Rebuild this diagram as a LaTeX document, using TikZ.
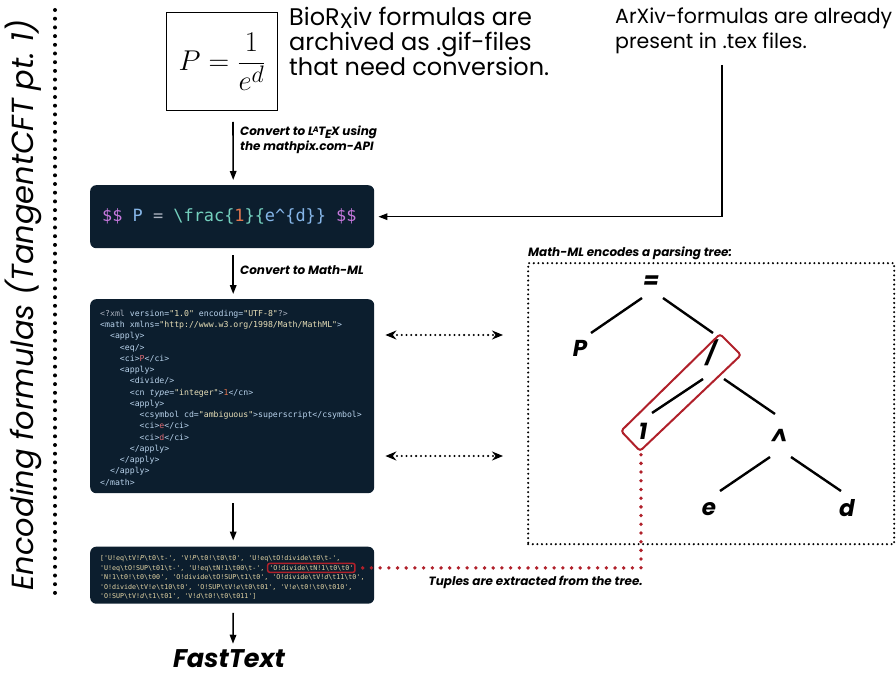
\documentclass[tikz,border=0pt]{standalone}
\usepackage{fontspec}
\setmainfont{Poppins}
\setmonofont{DejaVu Sans Mono}
\usetikzlibrary{arrows.meta,calc}
\definecolor{codebg}{HTML}{0C1E2E}
\definecolor{hlred}{HTML}{B0202A}
\definecolor{cpurple}{HTML}{C678DD}
\definecolor{cblue}{HTML}{86B6E8}
\definecolor{cgray}{HTML}{ABB2BF}
\definecolor{cteal}{HTML}{74D0BE}
\definecolor{corange}{HTML}{E0764F}
\definecolor{ctag}{HTML}{B9D3EC}
\definecolor{cstr}{HTML}{E9E0B8}
\definecolor{cvar}{HTML}{E06C75}
\definecolor{ctup}{HTML}{E6D7A6}
\newcommand\xs[1]{\textcolor{cstr}{#1}}
\newcommand\xv[1]{\textcolor{cvar}{#1}}
\newcommand\xn[1]{\textcolor{corange}{#1}}
\newcommand\ind[1]{\hspace*{#1\fontcharwd\font`x}}
\newcommand\tb{\textbackslash t}
\newcommand\tv[1]{\textit{#1}}
\newcommand\mylatex{L\kern-0.08em\raisebox{0.55ex}{\fontsize{8}{8}\selectfont A}\kern-0.02em T\kern-0.04em\raisebox{-0.45ex}{E}\kern-0.04em X}
\begin{document}
\begin{tikzpicture}[x=1pt,y=-1pt,
  codebox/.style={fill=codebg, rounded corners=6pt, inner sep=0pt, anchor=north west},
  flow/.style={line width=1.6pt, -{Triangle[length=9pt,width=6.5pt]}},
  lbl/.style={font=\bfseries\itshape\fontsize{12}{14.5}\selectfont, align=left, inner sep=0pt},
  bodytext/.style={font=\fontsize{24}{25}\selectfont, align=left, inner sep=0pt},
  tn/.style={font=\bfseries\itshape\fontsize{23}{23}\selectfont, inner sep=0pt},
  te/.style={line width=2.4pt},
  bigdots/.style={line width=4pt, line cap=round, dash pattern=on 0pt off 8.7pt},
  smalldots/.style={line width=2.3pt, line cap=round, dash pattern=on 0pt off 4.6pt},
  reddots/.style={hlred, line width=3.8pt, line cap=round, dash pattern=on 0pt off 8.7pt},
  dbl/.style={line width=2.3pt, line cap=round, dash pattern=on 0pt off 4.8pt,
    {Stealth[length=11pt,width=9pt]}-{Stealth[length=11pt,width=9pt]}},
  tup/.style={font=\ttfamily\fontsize{6.65}{9.6}\selectfont, text=ctup, inner sep=0pt, anchor=base west}
]
\useasboundingbox (0,0) rectangle (896,676);

% left title and dotted divider
\node[rotate=90, font=\itshape\fontsize{30.5}{30.5}\selectfont, inner sep=0pt] (title) at (23,305) {Encoding formulas (TangentCFT pt.~1)};
\draw[bigdots] (55,10) -- (55,598);

% gif formula box
\node[draw, line width=1.3pt, minimum width=111pt, minimum height=98pt, anchor=north west, inner sep=0pt] (gif) at (166,12) {};
\node[scale=1.15, font=\Huge] (formula) at (gif.center) {$\displaystyle P=\frac{1}{e^{d}}$};

% top texts
\node[bodytext, anchor=north west] (bio) at (289,7) {BioR\raisebox{-0.22ex}{\fontsize{21}{21}\selectfont X}iv formulas are\\archived as .gif-files\\that need conversion.};
\node[bodytext, font=\fontsize{20.5}{25}\selectfont, anchor=north west] (arxiv) at (615,8) {ArXiv-formulas are already\\present in .tex files.};

% latex code box
\node[codebox, minimum width=284pt, minimum height=63pt] (latex) at (90,185) {};
\node[anchor=west, inner sep=0pt, font=\ttfamily\fontsize{16.9}{20}\selectfont] (latextext) at ([xshift=12pt]latex.west)
  {\textcolor{cpurple}{\$\$} \textcolor{cblue}{P} \textcolor{cgray}{=} \textcolor{cteal}{\textbackslash frac\{}\textcolor{corange}{1}\textcolor{cteal}{\}\{}\textcolor{cblue}{e\textasciicircum\{d\}\}} \textcolor{cpurple}{\$\$}};

% xml box
\node[codebox, minimum width=284pt, minimum height=194pt] (xml) at (90,299) {};
\node[anchor=north west, inner sep=0pt, align=left, font=\ttfamily\fontsize{8.2}{11.25}\selectfont, text=ctag] (xmltext) at (100,310) {%
\textcolor{cgray}{<?xml} version=\xs{"1.0"} encoding=\xs{"UTF-8"}\textcolor{cgray}{?>}\\
<math xmlns=\xs{"http://www.w3.org/1998/Math/MathML"}>\\
\ind{2}<apply>\\
\ind{4}<eq/>\\
\ind{4}<ci>\xv{P}</ci>\\
\ind{4}<apply>\\
\ind{6}<divide/>\\
\ind{6}<cn \textit{type}=\xs{"integer"}>\xn{1}</cn>\\
\ind{6}<apply>\\
\ind{8}<csymbol cd=\xs{"ambiguous"}>superscript</csymbol>\\
\ind{8}<ci>\xv{e}</ci>\\
\ind{8}<ci>\xv{d}</ci>\\
\ind{6}</apply>\\
\ind{4}</apply>\\
\ind{2}</apply>\\
</math>};

% tuples box
\node[codebox, minimum width=284pt, minimum height=57pt] (tuples) at (90,546.5) {};
\node[tup] (t1) at (100,560.5) {['U!eq\tb{}V!\tv{P}\tb{}0\tb{}-', 'V!\tv{P}\tb{}0!\tb{}0\tb{}0', 'U!eq\tb{}O!divide\tb{}0\tb{}-',};
\node[tup] (t2) at (100,570.1) {'U!eq\tb{}O!SUP\tb{}01\tb{}-', 'U!eq\tb{}N!1\tb{}00\tb{}-',};
\node[tup, draw=hlred, line width=1.5pt, rounded corners=2pt, inner sep=1.6pt] (hl) at ([xshift=2.4pt]t2.base east) {'O!divide\tb{}N!1\tb{}0\tb{}0'};
\node[tup] (t3) at (100,579.7) {'N!1\tb{}0!\tb{}0\tb{}00', 'O!divide\tb{}O!SUP\tb{}1\tb{}0', 'O!divide\tb{}V!\tv{d}\tb{}11\tb{}0',};
\node[tup] (t4) at (100,589.3) {'O!divide\tb{}V!\tv{e}\tb{}10\tb{}0', 'O!SUP\tb{}V!\tv{e}\tb{}0\tb{}01', 'V!\tv{e}\tb{}0!\tb{}0\tb{}010',};
\node[tup] (t5) at (100,598.9) {'O!SUP\tb{}V!\tv{d}\tb{}1\tb{}01', 'V!\tv{d}\tb{}0!\tb{}0\tb{}011']};

% FastText
\node[font=\bfseries\itshape\fontsize{25.5}{25.5}\selectfont, inner sep=0pt] (ft) at (229,659) {FastText};

% labels
\node[lbl, anchor=north west] (lab1) at (240,126) {Convert to \mylatex{} using\\the mathpix.com-API};
\node[lbl, anchor=west] (lab2) at (240,270) {Convert to Math-ML};
\node[lbl, anchor=base west] (lab3) at (528,256) {Math-ML encodes a parsing tree:};
\node[lbl, anchor=base east] (lab4) at (643,585) {Tuples are extracted from the tree.};

% flow arrows
\draw[flow] (233,122) -- ($(latex.north)+(1,-5)$);
\draw[flow] ($(latex.south)+(1,7)$) -- ($(xml.north)+(1,-5)$);
\draw[flow] ($(xml.south)+(1,10)$) -- ($(tuples.north)+(1,-6)$);
\draw[flow] ($(tuples.south)+(1,9)$) -- ($(ft.north)+(4,-6)$);
\coordinate (arxivfoot) at (722,65);
\draw[flow] (arxivfoot) |- ($(latex.east)+(4,0)$);

% tree box
\node[smalldots, draw, minimum width=366pt, minimum height=281pt, anchor=north west, inner sep=0pt] (tree) at (527,262) {};
\draw[dbl] ($(xml.north east)+(11,36)$) -- ($(tree.north west)+(-24,73)$);
\draw[dbl] ($(xml.north east)+(11,157)$) -- ($(tree.north west)+(-24,194)$);

% tree
\node[tn] (eq) at (651,282) {=};
\node[tn] (P) at (580,348) {P};
\node[tn] (div) at (711,353) {/};
\node[tn] (one) at (643,431) {1};
\node[tn] (hat) at (779,437) {\textasciicircum};
\node[tn] (e) at (709,509) {e};
\node[tn] (d) at (847,508) {d};
\draw[te] ($(eq)+(-9,16)$) -- ($(P)+(11,-15)$);
\draw[te] ($(eq)+(12,16)$) -- ($(div)+(2,-20)$);
\draw[te] ($(div)+(-8,26)$) -- ($(one)+(9,-18)$);
\draw[te] ($(div)+(13,26)$) -- ($(hat)+(-4,-23)$);
\draw[te] ($(hat)+(-9,20)$) -- ($(e)+(11,-18)$);
\draw[te] ($(hat)+(12,20)$) -- ($(d)+(-6,-17)$);

% red highlight in tree and connector
\draw[hlred, line width=2pt, rounded corners=3pt] (720,334) -- (741,355) -- (640,451) -- (621,431) -- cycle;
\coordinate (hlbot) at (641,453);
\draw[reddots] ($(hl.east)+(7,0)$) -- ($(hl.east -| hlbot)$) -- (hlbot);
\end{tikzpicture}
\end{document}
